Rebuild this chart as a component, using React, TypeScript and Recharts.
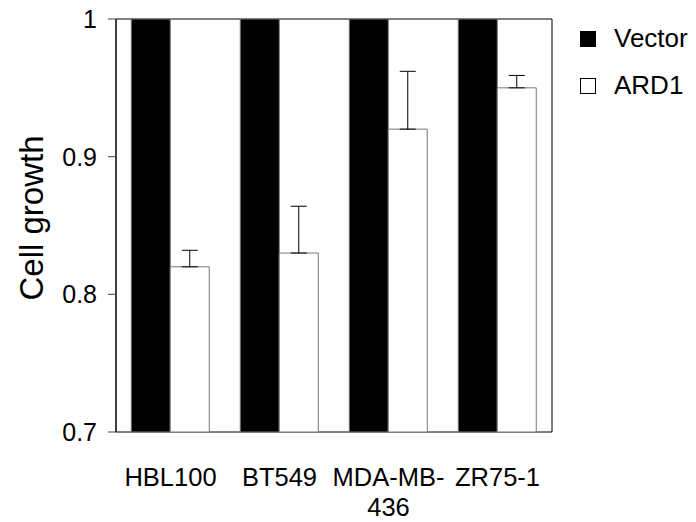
import { BarChart, Bar, XAxis, YAxis, ErrorBar, Legend, ReferenceArea } from 'recharts'

const categories = ['HBL100', 'BT549', 'MDA-MB-436', 'ZR75-1']
const tickLines = [['HBL100'], ['BT549'], ['MDA-MB-', '436'], ['ZR75-1']]
const vectorValues = [1, 1, 1, 1]
const ard1Values = [0.82, 0.83, 0.92, 0.95]
const ard1Errors = [0.012, 0.034, 0.042, 0.009]
const yTicks = [0.7, 0.8, 0.9, 1]

const FONT = '"Liberation Sans", Arial, sans-serif'

const data = categories.map((name, i) => ({
  name,
  vector: vectorValues[i],
  ard1: ard1Values[i],
  err: [0, ard1Errors[i]],
}))

function CategoryTick(props: any) {
  const { x, y, payload } = props
  const lines = tickLines[payload.index] || [payload.value]
  return (
    <text x={x} y={y} textAnchor="middle" fontFamily={FONT} fontSize={25.5} fill="#000">
      {lines.map((l, i) => (
        <tspan key={i} x={x} dy={i === 0 ? 46 : 30}>{l}</tspan>
      ))}
    </text>
  )
}

function LegendBox() {
  const items = [
    { label: 'Vector', fill: '#000' },
    { label: 'ARD1', fill: '#fff' },
  ]
  return (
    <div style={{ fontFamily: FONT, fontSize: 26, color: '#000' }}>
      {items.map(it => (
        <div key={it.label} style={{ display: 'flex', alignItems: 'center', height: 47 }}>
          <span style={{ width: 16, height: 16, background: it.fill, border: '1px solid #000', marginRight: 18, boxSizing: 'border-box' }} />
          <span>{it.label}</span>
        </div>
      ))}
    </div>
  )
}

export default function App() {
  return (
    <div style={{ width: 696, height: 522, background: '#fff' }}>
      <style>{'body{margin:0}'}</style>
      <BarChart
        width={696}
        height={522}
        data={data}
        margin={{ top: 19, right: 144, left: 0, bottom: 0 }}
        barCategoryGap="14%"
        barGap={0}
      >
        <XAxis
          dataKey="name"
          height={90}
          axisLine={false}
          tickLine={false}
          interval={0}
          tick={<CategoryTick />}
        />
        <YAxis
          width={116}
          domain={[0.7, 1]}
          ticks={yTicks}
          allowDataOverflow
          axisLine={{ stroke: '#000' }}
          tickLine={{ stroke: '#444' }}
          tickSize={8}
          tickMargin={11}
          tick={{ fill: '#000', fontSize: 25, fontFamily: FONT }}
          label={() => (
            <text
              x={0}
              y={0}
              transform="translate(43, 218) rotate(-90)"
              textAnchor="middle"
              fontFamily={FONT}
              fontSize={33}
              fill="#000"
            >
              Cell growth
            </text>
          )}
        />
        <Legend
          layout="vertical"
          align="center"
          verticalAlign="middle"
          wrapperStyle={{ left: 580, top: 15, width: 116, height: 100 }}
          content={() => <LegendBox />}
        />
        <Bar dataKey="vector" fill="#000" stroke="#777" strokeWidth={1} isAnimationActive={false} />
        <Bar dataKey="ard1" fill="#fff" stroke="#777" strokeWidth={1} isAnimationActive={false}>
          <ErrorBar dataKey="err" width={8} stroke="#000" strokeWidth={1} direction="y" />
        </Bar>
        <ReferenceArea y1={0.7} y2={1} fill="none" stroke="#000" strokeWidth={1} />
      </BarChart>
    </div>
  )
}
